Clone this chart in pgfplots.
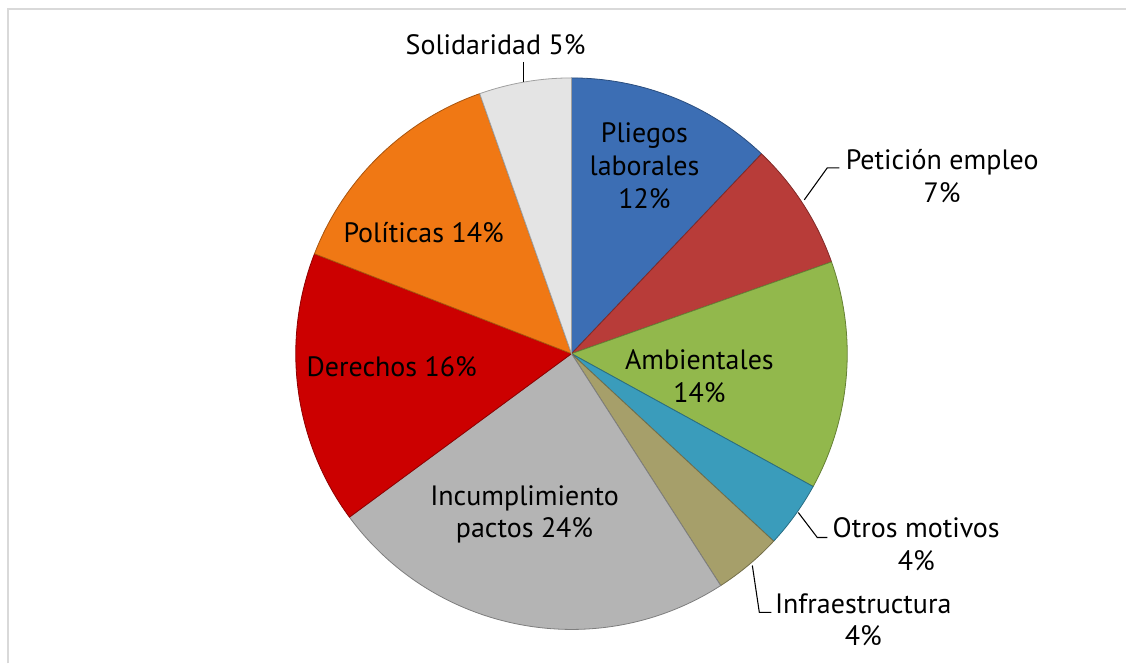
\documentclass[border=0pt]{standalone}
\usepackage{fontspec}
\setmainfont{PT Sans}
\usepackage{pgfplots}
\pgfplotsset{compat=1.18}

\definecolor{pliegos}{HTML}{3C6EB4}
\definecolor{peticion}{HTML}{B83C39}
\definecolor{ambientales}{HTML}{92B84C}
\definecolor{otros}{HTML}{3A9CBB}
\definecolor{infra}{HTML}{A69F6A}
\definecolor{incumpl}{HTML}{B4B4B4}
\definecolor{derechos}{HTML}{CC0000}
\definecolor{politicas}{HTML}{F07814}
\definecolor{solidaridad}{HTML}{E4E4E4}
\definecolor{frame}{HTML}{D9D9D9}

\begin{document}
\begin{tikzpicture}
\begin{axis}[
    x=0.75pt, y=0.75pt,
    xmin=0, xmax=1127, ymin=0, ymax=664,
    hide axis, clip=false,
  ]
  \path (axis cs:0,0) rectangle (axis cs:1127,664);
  % frame of the chart area
  \draw[frame, line width=1.5pt] (axis cs:8.5,0) -- (axis cs:8.5,655) -- (axis cs:1127,655);

  % slices, clockwise from 12 o'clock (share in %)
  \def\cum{0}
  \foreach \v/\c in {12.1/pliegos, 7.5/peticion, 13.4/ambientales, 3.9/otros,
                     4.0/infra, 24.0/incumpl, 16.0/derechos, 13.7/politicas, 5.4/solidaridad} {
    \pgfmathsetmacro\a{90-3.6*\cum}
    \pgfmathsetmacro\b{90-3.6*(\cum+\v)}
    \pgfmathsetmacro\px{572+276*cos(\a)}
    \pgfmathsetmacro\py{310+276*sin(\a)}
    \edef\temp{\noexpand\fill[\c, draw=\c!70!black, line width=0.6pt]
      (axis cs:572,310) -- (axis cs:\px,\py)
      arc[start angle=\a, end angle=\b, radius=207pt] -- cycle;}
    \temp
    \pgfmathsetmacro\n{\cum+\v}
    \global\let\cum\n
  }

  % leader lines
  \draw[line width=0.8pt] (axis cs:524,602) -- (axis cs:524,582);
  \draw[line width=0.8pt] (axis cs:805,464) -- (axis cs:828,496) -- (axis cs:840,496);
  \draw[line width=0.8pt] (axis cs:799,151) -- (axis cs:818,126) -- (axis cs:828,126);
  \draw[line width=0.8pt] (axis cs:753,98) -- (axis cs:760,51) -- (axis cs:772,51);

  % labels
  \tikzset{lbl/.style={align=center, font=\fontsize{21}{24.5}\selectfont, inner sep=0pt}}
  \node[lbl] at (axis cs:496,619) {Solidaridad 5\%};
  \node[lbl] at (axis cs:645,498) {Pliegos\\laborales\\12\%};
  \node[lbl] at (axis cs:943,487.5) {Petición empleo\\7\%};
  \node[lbl] at (axis cs:700,287.5) {Ambientales\\14\%};
  \node[lbl] at (axis cs:917,119) {Otros motivos\\4\%};
  \node[lbl] at (axis cs:864,43.5) {Infraestructura\\4\%};
  \node[lbl] at (axis cs:525,149) {Incumplimiento\\pactos 24\%};
  \node[lbl] at (axis cs:392,297) {Derechos 16\%};
  \node[lbl] at (axis cs:424,431) {Políticas 14\%};
\end{axis}
\end{tikzpicture}
\end{document}
